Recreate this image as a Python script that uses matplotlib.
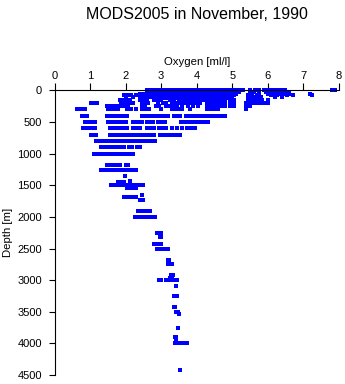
import matplotlib
matplotlib.use("Agg")
import matplotlib.pyplot as plt

plt.rcParams["font.family"] = ["Liberation Sans", "DejaVu Sans"]

title = "MODS2005 in November, 1990"
x_label = "Oxygen [ml/l]"
y_label = "Depth [m]"
x_ticks = [0, 1, 2, 3, 4, 5, 6, 7, 8]
y_ticks = [0, 500, 1000, 1500, 2000, 2500, 3000, 3500, 4000, 4500]

# Mixed layer / surface observations (depth in m, oxygen in ml/l per level)
surface_depth = [0, 20, 50, 75, 100, 125, 150]
surface_oxygen = [
    [2.6, 2.7, 2.8, 2.9, 3.0, 3.1, 3.2, 3.3, 3.4, 3.5, 3.6, 3.7, 3.8, 3.9, 4.0, 4.1,
     4.2, 4.3, 4.4, 4.5, 4.6, 4.7, 4.8, 4.9, 5.0, 5.1, 5.2, 5.3, 5.5, 5.65, 5.75,
     5.9, 6.0, 6.1, 6.2, 6.3, 6.4, 6.5, 7.8, 7.9],
    [2.7, 2.8, 2.9, 3.0, 3.1, 3.2, 3.3, 3.4, 3.5, 3.6, 3.7, 3.8, 3.9, 4.0, 4.1, 4.2,
     4.3, 4.4, 4.5, 4.6, 4.7, 4.8, 4.9, 5.0, 5.1, 5.2, 5.6, 5.75, 5.95, 6.05, 6.15,
     6.25, 6.35, 6.45, 6.6],
    [2.4, 2.5, 2.6, 2.7, 2.8, 2.9, 3.0, 3.1, 3.2, 3.3, 3.4, 3.5, 3.6, 3.7, 3.8, 3.9,
     4.0, 4.1, 4.2, 4.3, 4.4, 4.5, 4.6, 4.7, 4.8, 4.9, 5.0, 5.1, 5.5, 5.75, 6.0,
     6.1, 6.2, 6.3, 6.4, 6.5, 6.6, 7.2],
    [1.95, 2.05, 2.15, 2.3, 2.45, 2.6, 2.7, 2.8, 2.9, 3.0, 3.1, 3.2, 3.3, 3.4, 3.5,
     3.6, 3.7, 3.8, 3.9, 4.0, 4.1, 4.2, 4.3, 4.4, 4.5, 4.6, 4.7, 4.8, 4.9, 5.05,
     5.45, 5.55, 5.7, 6.1, 6.25, 6.4, 6.55, 6.7, 7.25],
    [2.0, 2.2, 2.4, 2.5, 2.6, 2.7, 2.8, 2.9, 3.0, 3.1, 3.2, 3.3, 3.4, 3.5, 3.6, 3.7,
     3.8, 3.9, 4.0, 4.1, 4.2, 4.3, 4.4, 4.5, 4.6, 4.7, 4.8, 4.9, 5.0, 5.6, 5.8,
     6.2, 6.4],
    [2.5, 2.6, 2.8, 2.9, 3.0, 3.1, 3.2, 3.3, 3.4, 3.5, 3.6, 3.7, 3.8, 3.9, 4.0, 4.1,
     4.2, 4.3, 4.4, 4.5, 4.6, 4.7, 4.8, 4.9, 5.0, 5.45, 5.55, 5.7],
    [1.85, 1.93, 2.02, 2.12, 2.4, 2.5, 2.6, 2.8, 2.9, 3.0, 3.25, 3.35, 3.5, 3.6, 3.7,
     3.8, 3.9, 4.0, 4.1, 4.2, 4.3, 4.4, 4.5, 4.6, 4.7, 4.8, 4.95, 5.05, 5.45, 5.55,
     5.65, 5.75, 5.85, 6.0],
]

# Thermocline and oxygen-minimum layer
upper_depth = [200, 250, 300, 400, 500, 600, 700, 800, 900, 1000]
upper_oxygen = [
    [1.04, 1.12, 1.2, 1.88, 1.96, 2.04, 2.12, 2.2, 2.45, 2.55, 2.63, 2.9, 3.05, 3.15,
     3.3, 3.4, 3.5, 3.6, 3.7, 3.8, 3.9, 4.0, 4.1, 4.3, 4.4, 4.5, 4.6, 4.7, 4.8,
     4.95, 5.05, 5.4, 5.5, 5.58, 5.7, 5.8, 5.9, 6.0],
    [1.47, 1.55, 1.63, 1.72, 1.8, 1.9, 2.0, 2.07, 2.45, 2.55, 2.87, 2.95, 3.15, 3.25,
     3.35, 3.45, 3.6, 3.75, 3.9, 4.05, 4.3, 4.4, 4.5, 4.6, 4.7, 4.8, 4.95, 5.05,
     5.4, 5.5],
    [0.62, 0.7, 0.78, 0.86, 1.5, 1.6, 1.7, 1.78, 2.05, 2.15, 2.3, 2.45, 2.55, 2.65,
     3.0, 3.3, 3.4, 3.5, 3.6, 3.8, 4.3, 4.4, 4.5, 4.6, 5.38],
    [0.78, 0.86, 0.92, 1.47, 1.55, 1.63, 1.72, 1.8, 1.88, 1.96, 2.04, 2.45, 2.52,
     2.6, 2.7, 2.8, 2.9, 3.0, 3.1, 3.2, 3.35, 3.45, 3.53, 3.7, 3.8, 3.9, 4.0, 4.1,
     4.2, 4.3, 4.4, 4.5, 4.6, 4.7, 4.8],
    [0.86, 0.93, 1.0, 1.08, 1.14, 1.5, 1.58, 1.66, 1.74, 1.82, 1.9, 2.0, 2.2, 2.28,
     2.36, 2.45, 2.6, 2.68, 2.78, 2.9, 3.0, 3.1, 3.57, 3.65, 3.75, 3.85, 3.95, 4.05,
     4.15, 4.25, 4.32],
    [0.81, 0.9, 0.97, 1.05, 1.14, 1.56, 1.64, 1.72, 1.8, 1.88, 1.96, 2.03, 2.2, 2.3,
     2.4, 2.6, 2.7, 2.8, 2.95, 3.05, 3.15, 3.3, 3.45, 3.6, 3.72, 3.8, 3.88, 3.95],
    [1.04, 1.1, 1.18, 1.56, 1.64, 1.72, 1.8, 1.88, 1.96, 2.04, 2.12, 2.2, 2.28, 2.36,
     2.44, 2.52, 2.6, 2.68, 2.8, 2.96, 3.05, 3.15, 3.25, 3.35, 3.43, 3.53],
    [1.16, 1.24, 1.32, 1.4, 1.48, 1.56, 1.64, 1.72, 1.8, 1.88, 1.96, 2.04, 2.12,
     2.2, 2.28, 2.36, 2.44, 2.52, 2.59, 2.66, 2.74, 2.82],
    [1.32, 1.4, 1.48, 1.56, 1.64, 1.72, 1.8, 1.88, 1.96, 2.1, 2.17, 2.31, 2.4],
    [1.12, 1.2, 1.28, 1.36, 1.44, 1.52, 1.6, 1.68, 1.76, 1.84, 1.92, 2.0, 2.08,
     2.16, 2.21],
]

# Intermediate water
middle_depth = [1180, 1250, 1360, 1425, 1450, 1490, 1550, 1660, 1690, 1740, 1910, 2000]
middle_oxygen = [
    [1.47, 1.55, 1.63, 1.7, 1.78, 1.84, 2.0, 2.07],
    [1.32, 1.4, 1.47, 1.55, 1.63, 1.7, 1.78, 1.86, 1.95, 2.03, 2.12, 2.2, 2.28],
    [1.98],
    [2.12],
    [1.8, 1.88, 1.95],
    [1.6, 1.68, 1.78, 1.86, 1.94, 2.02, 2.1, 2.18, 2.26, 2.34, 2.42, 2.5],
    [2.05, 2.12, 2.2, 2.28],
    [2.45],
    [1.95, 2.03, 2.1, 2.18, 2.22, 2.3],
    [2.4, 2.48],
    [2.35, 2.42, 2.48, 2.54, 2.6, 2.68],
    [2.26, 2.33, 2.4, 2.45, 2.52, 2.6, 2.68, 2.76, 2.84],
]

# Deep water
deep_depth = [2250, 2310, 2430, 2505, 2680, 2745, 2920, 2960, 3000, 3095, 3250,
              3420, 3500, 3530, 3750, 3900, 3940, 4000, 4420]
deep_oxygen = [
    [2.89, 2.96, 3.01],
    [2.96, 3.01],
    [2.8, 2.87, 2.95, 3.01],
    [2.89, 2.96, 3.04, 3.12, 3.2],
    [3.18, 3.23],
    [3.2, 3.26, 3.32],
    [3.27, 3.33],
    [3.24, 3.31],
    [2.95, 3.01, 3.14, 3.2, 3.26, 3.32, 3.38, 3.45],
    [3.41],
    [3.35, 3.41, 3.45],
    [3.35, 3.39],
    [3.42, 3.48],
    [3.5],
    [3.47],
    [3.4, 3.43],
    [3.41],
    [3.39, 3.45, 3.51, 3.57, 3.63, 3.69, 3.73],
    [3.53],
]

fig = plt.figure(figsize=(3.45, 3.84), dpi=100)
ax = fig.add_axes([0.158, 0.0234, 0.824, 0.741])

for depths, oxygen in [(surface_depth, surface_oxygen), (upper_depth, upper_oxygen),
                       (middle_depth, middle_oxygen), (deep_depth, deep_oxygen)]:
    for d, row in zip(depths, oxygen):
        ax.plot(row, [d] * len(row), "s", ms=2.2, mew=0, color="#0000ff",
                clip_on=False)

ax.set_xlim(0, 8)
ax.set_ylim(4500, 0)
ax.set_xticks(x_ticks)
ax.set_yticks(y_ticks)

ax.xaxis.tick_top()
ax.xaxis.set_label_position("top")
ax.set_xlabel(x_label, fontsize=8.2, labelpad=4)
ax.set_ylabel(y_label, fontsize=8.2, labelpad=3)
ax.tick_params(axis="x", labelsize=8, length=5, width=0.8, pad=2)
ax.tick_params(axis="y", labelsize=8, length=4, width=0.8, pad=5)

ax.spines["right"].set_visible(False)
ax.spines["bottom"].set_visible(False)
ax.spines["top"].set_linewidth(0.8)
ax.spines["left"].set_linewidth(0.8)

fig.text(0.571, 0.961, title, ha="center", va="center", fontsize=11.5)

fig.savefig("out.png", dpi=100)
